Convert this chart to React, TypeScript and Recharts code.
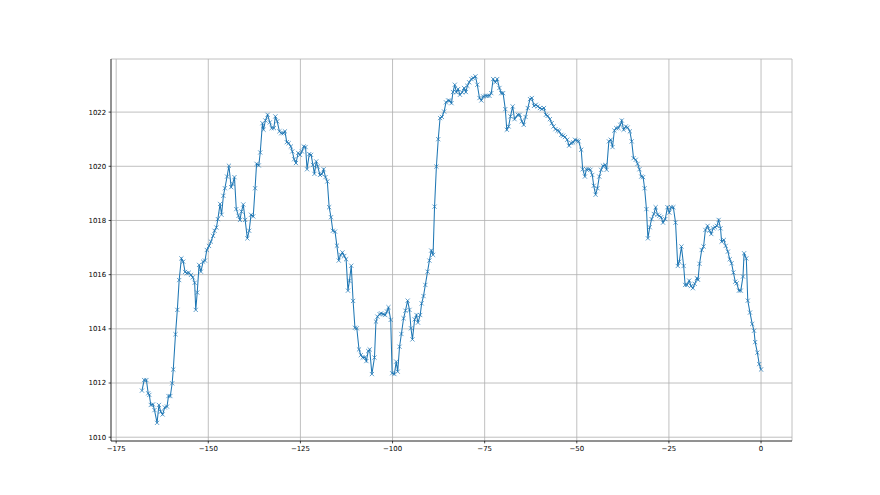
import { CartesianGrid, Line, LineChart, XAxis, YAxis } from "recharts";

// hours before now
const hours = [
  -168.0, -167.4, -166.8, -166.3, -166.0, -165.6, -165.0, -164.6, -163.9, -163.4,
  -162.9, -162.4, -161.8, -161.2, -160.8, -160.3, -159.8, -159.5, -158.9, -158.4,
  -157.9, -157.3, -156.8, -156.3, -155.8, -155.3, -154.7, -154.2, -153.7, -153.4,
  -153.0, -152.5, -152.0, -151.4, -150.9, -150.4, -149.8, -149.3, -148.7, -148.3,
  -147.8, -147.4, -146.8, -146.4, -145.9, -145.5, -144.9, -144.4, -143.8, -143.4,
  -142.9, -142.4, -141.8, -141.4, -141.0, -140.5, -140.0, -139.4, -138.9, -138.4,
  -137.8, -137.3, -136.9, -136.3, -135.9, -135.3, -135.0,
  -134.5, -133.9, -133.3, -132.8, -132.2, -131.8, -131.3, -130.7, -130.2, -129.6,
  -129.2, -128.7, -128.2, -127.6, -127.2, -126.7, -126.2, -125.6, -125.1, -124.6,
  -124.1, -123.6, -123.2, -122.6, -122.1, -121.6, -121.2, -120.7, -120.3, -119.7,
  -119.2, -118.7, -118.2, -117.7, -117.2, -116.7, -116.2, -115.6, -115.1, -114.6,
  -114.1, -113.6, -113.1, -112.6, -112.1, -111.7, -111.2, -110.7, -110.2, -109.7,
  -109.1, -108.6, -108.1, -107.5, -107.1, -106.6, -106.2, -105.6, -104.9, -104.5,
  -104.1, -103.5, -103.1, -102.5, -102.0, -101.5, -101.1,
  -100.5, -100.1, -99.5, -99.0, -98.6, -98.1, -97.6, -97.0, -96.5, -95.9,
  -95.4, -95.0, -94.6, -94.0, -93.5, -93.1, -92.5, -92.1, -91.6, -91.1,
  -90.5, -90.0, -89.5, -89.0, -88.6, -88.1, -87.6, -87.1, -86.6, -86.0,
  -85.5, -84.9, -84.5, -84.0, -83.6, -83.1, -82.7, -82.2, -81.7, -81.1,
  -80.6, -80.1, -79.7, -79.2, -78.6, -78.1, -77.5, -77.0, -76.4, -75.9,
  -75.4, -74.8, -74.3, -73.7, -73.2, -72.7, -72.1, -71.6, -71.0, -70.5,
  -70.0, -69.4, -69.0, -68.5, -68.0, -67.4, -66.9,
  -66.0, -65.5, -64.9, -64.4, -63.9, -63.3, -62.7, -62.2, -61.6, -61.1,
  -60.6, -60.0, -59.5, -58.9, -58.4, -57.9, -57.3, -56.8, -56.3, -55.8,
  -55.2, -54.8, -54.2, -53.7, -53.2, -52.6, -52.1, -51.5, -51.0, -50.5,
  -49.9, -49.5, -48.8, -48.4, -47.8, -47.4, -46.8, -46.3, -45.8, -45.4,
  -44.9, -44.4, -43.9, -43.4, -42.9, -42.3, -41.9, -41.3, -40.8, -40.3,
  -39.8, -39.3, -38.7, -38.2, -37.8, -37.3, -36.7, -36.2, -35.6, -35.1,
  -34.6, -34.0, -33.5, -33.0, -32.5,
  -32.0, -31.6, -31.1, -30.7, -30.2, -29.7, -29.1, -28.6, -28.1, -27.6,
  -27.1, -26.6, -26.0, -25.4, -24.9, -24.4, -23.8, -23.2, -22.6, -22.2,
  -21.6, -21.0, -20.6, -20.1, -19.5, -19.0, -18.5, -18.0, -17.4, -17.1,
  -16.7, -16.1, -15.6, -15.1, -14.5, -14.0, -13.5, -13.0, -12.5, -12.0,
  -11.5, -11.0, -10.7, -10.1, -9.6, -9.0, -8.5, -8.0, -7.5, -7.0,
  -6.6, -6.0, -5.5, -4.9, -4.6, -4.0, -3.6, -3.0, -2.4, -1.9,
  -1.6, -1.0, -0.5, 0.0,
];

// pressure (hPa)
const pressure = [
  1011.72, 1012.11, 1012.11, 1011.62, 1011.56, 1011.19, 1011.21, 1011.0, 1010.53, 1011.19,
  1010.94, 1010.84, 1011.1, 1011.13, 1011.52, 1011.52, 1011.99, 1012.5, 1013.8, 1014.7,
  1015.8, 1016.6, 1016.48, 1016.1, 1016.05, 1016.07, 1015.99, 1015.9, 1015.7, 1014.7,
  1015.34, 1016.36, 1016.11, 1016.48, 1016.52, 1016.91, 1017.06, 1017.22, 1017.43, 1017.62,
  1017.74, 1018.05, 1018.61, 1018.21, 1018.91, 1019.19, 1019.62, 1020.02, 1019.23, 1019.35,
  1019.6, 1018.42, 1018.17, 1018.02, 1018.33, 1018.59, 1018.02, 1017.34, 1017.62, 1018.21,
  1018.15, 1019.19, 1020.09, 1020.03, 1020.51, 1021.59, 1021.35,
  1021.69, 1021.9, 1021.62, 1021.41, 1021.41, 1021.84, 1021.66, 1021.29, 1021.22, 1021.22,
  1021.29, 1020.89, 1020.85, 1020.73, 1020.55, 1020.26, 1020.12, 1020.49, 1020.42, 1020.55,
  1020.73, 1020.71, 1019.89, 1020.45, 1020.42, 1020.05, 1019.72, 1020.18, 1019.99, 1019.68,
  1019.71, 1019.89, 1019.6, 1019.44, 1018.49, 1018.12, 1017.62, 1017.59, 1017.07, 1016.52,
  1016.73, 1016.82, 1016.69, 1016.57, 1015.41, 1015.77, 1016.33, 1015.03, 1014.04, 1014.02,
  1013.24, 1013.03, 1012.94, 1012.95, 1012.81, 1013.18, 1013.24, 1012.33, 1012.94, 1014.27,
  1014.45, 1014.54, 1014.57, 1014.54, 1014.51, 1014.64, 1014.8,
  1014.33, 1012.36, 1012.33, 1012.79, 1012.42, 1013.34, 1013.81, 1014.39, 1014.67, 1015.04,
  1014.7, 1014.02, 1013.61, 1014.35, 1014.51, 1014.23, 1014.51, 1014.94, 1015.21, 1015.62,
  1016.11, 1016.52, 1016.89, 1016.73, 1018.51, 1019.99, 1021.0, 1021.78, 1021.82, 1022.02,
  1022.36, 1022.43, 1022.42, 1022.33, 1022.74, 1023.01, 1022.73, 1022.85, 1022.64, 1022.73,
  1022.89, 1022.74, 1022.97, 1023.1, 1023.22, 1023.26, 1023.32, 1023.01, 1022.52, 1022.43,
  1022.58, 1022.6, 1022.6, 1022.6, 1022.7, 1023.22, 1023.1, 1023.22, 1022.89, 1022.7,
  1022.7, 1022.11, 1021.35, 1021.47, 1021.84, 1022.21, 1021.74,
  1021.9, 1021.9, 1021.66, 1021.53, 1021.82, 1022.15, 1022.48, 1022.52, 1022.23, 1022.27,
  1022.21, 1022.15, 1022.11, 1022.15, 1021.9, 1021.86, 1021.74, 1021.59, 1021.47, 1021.37,
  1021.32, 1021.29, 1021.16, 1021.13, 1021.08, 1020.98, 1020.76, 1020.86, 1020.88, 1020.98,
  1020.95, 1020.92, 1020.61, 1019.89, 1019.62, 1019.89, 1019.89, 1019.87, 1019.68, 1019.28,
  1018.95, 1019.19, 1019.62, 1019.87, 1020.02, 1020.05, 1019.87, 1020.92, 1020.98, 1020.71,
  1021.32, 1021.41, 1021.41, 1021.53, 1021.69, 1021.35, 1021.47, 1021.43, 1021.29, 1020.92,
  1020.3, 1020.24, 1020.09, 1019.89, 1019.62,
  1019.6, 1019.19, 1018.42, 1017.34, 1017.75, 1018.05, 1018.24, 1018.49, 1018.21, 1018.17,
  1018.12, 1017.92, 1018.05, 1018.49, 1018.29, 1018.49, 1018.49, 1017.92, 1016.32, 1016.48,
  1017.04, 1016.32, 1015.62, 1015.62, 1015.78, 1015.58, 1015.5, 1015.66, 1015.87, 1015.81,
  1016.4, 1016.91, 1017.04, 1017.65, 1017.8, 1017.63, 1017.5, 1017.71, 1017.75, 1017.8,
  1018.02, 1017.71, 1017.22, 1017.28, 1017.06, 1016.85, 1016.57, 1016.42, 1016.08, 1015.74,
  1015.68, 1015.41, 1015.41, 1015.93, 1016.79, 1016.6, 1015.04, 1014.6, 1014.18, 1013.93,
  1013.51, 1013.12, 1012.7, 1012.5,
];

const xTicks = [-175, -150, -125, -100, -75, -50, -25, 0];
const yTicks = [1010, 1012, 1014, 1016, 1018, 1020, 1022];

const data = hours.map((t, i) => ({ t, p: pressure[i] }));

const COLOR = "#1f77b4";
const font = { fontFamily: "DejaVu Sans", fontSize: 6.94, fill: "#000" };
const fmt = (v: number) => (v < 0 ? "\u2212" + Math.abs(v) : String(v));

function Cross(props: any) {
  const { cx, cy, index } = props;
  if (cx == null || cy == null) return <g key={index} />;
  const r = 2.1;
  return (
    <g key={index} stroke={COLOR} strokeWidth={0.7}>
      <line x1={cx - r} y1={cy - r} x2={cx + r} y2={cy + r} />
      <line x1={cx - r} y1={cy + r} x2={cx + r} y2={cy - r} />
    </g>
  );
}

export default function App() {
  const axisLine = { stroke: "#000", strokeWidth: 0.7 };
  return (
    <div style={{ position: "absolute", left: 0, top: 0, background: "#fff" }}>
      <LineChart width={880} height={495} data={data} margin={{ top: 59, right: 88, bottom: 24, left: 51 }}>
        <CartesianGrid stroke="#b0b0b0" strokeWidth={0.8} />
        <XAxis
          dataKey="t"
          type="number"
          domain={[-176.4, 8.4]}
          ticks={xTicks}
          tickFormatter={fmt}
          allowDataOverflow
          height={30}
          tick={font}
          tickSize={2.4}
          tickMargin={2.4}
          tickLine={{ stroke: "#000", strokeWidth: 0.7 }}
          axisLine={axisLine}
        />
        <XAxis
          xAxisId="top"
          orientation="top"
          type="number"
          domain={[-176.4, 8.4]}
          height={0}
          tick={false}
          tickLine={false}
          axisLine={axisLine}
        />
        <YAxis
          type="number"
          domain={[1009.86, 1023.96]}
          ticks={yTicks}
          allowDataOverflow
          width={60}
          tick={font}
          tickSize={2.4}
          tickMargin={2.4}
          tickLine={{ stroke: "#000", strokeWidth: 0.7 }}
          axisLine={axisLine}
        />
        <YAxis
          yAxisId="right"
          orientation="right"
          type="number"
          domain={[1009.86, 1023.96]}
          width={0}
          tick={false}
          tickLine={false}
          axisLine={axisLine}
        />
        <Line
          type="linear"
          dataKey="p"
          stroke={COLOR}
          strokeWidth={1.04}
          dot={Cross}
          activeDot={false}
          isAnimationActive={false}
        />
      </LineChart>
    </div>
  );
}
